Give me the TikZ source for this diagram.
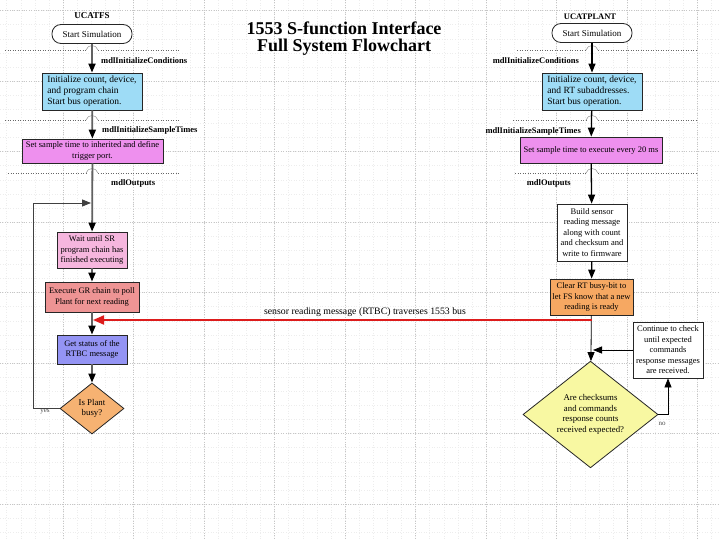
\documentclass[tikz,border=0pt]{standalone}
\usepackage{fontspec}
\setmainfont{Liberation Serif}
\usetikzlibrary{positioning,arrows.meta,shapes.geometric}
\definecolor{initBlue}{HTML}{9EDCF6}
\definecolor{sampleViolet}{HTML}{EE90EE}
\definecolor{waitPink}{HTML}{F6B6DE}
\definecolor{pollSalmon}{HTML}{EE9494}
\definecolor{statusBlue}{HTML}{9494F4}
\definecolor{busyOrange}{HTML}{F6B272}
\definecolor{clearOrange}{HTML}{F6A862}
\definecolor{checkYellow}{HTML}{F8F8A2}
\definecolor{busRed}{HTML}{DD1C1C}
\newcommand{\boxtext}{\fontsize{8.5}{10.5}\selectfont}
\newcommand{\inittext}{\fontsize{9.5}{11}\selectfont}
\newcommand{\hooktext}{\fontsize{8.5}{10}\selectfont\bfseries}
\newcommand{\titletext}{\fontsize{18}{17}\selectfont\bfseries}
% dotted stage separator with a small bridge over the flow line
\newcommand{\stagecut}[4]{%
  \draw[sepline] (#1,#4) -- ({#2-6},#4);
  \draw[sepline] ({#2+6},#4) -- (#3,#4);
  \draw[bridge] ({#2-6},#4) .. controls ({#2-4},{#4-6}) and ({#2+4},{#4-6}) .. ({#2+6},#4);}
\tikzset{
  gridline/.style={gray!45, line width=0.4pt, dotted},
  gridfine/.style={gray!14, line width=0.3pt, dash pattern=on 0.6pt off 2pt},
  sepline/.style={black!60, line width=0.5pt, dotted},
  bridge/.style={black!50, line width=0.4pt},
  termbox/.style={draw=black!85, line width=0.8pt, rounded corners=9pt, fill=white,
    minimum width=80pt, minimum height=19pt, inner sep=1pt, font=\fontsize{9}{10}\selectfont},
  flowbox/.style={draw=black!85, line width=0.8pt, align=center, inner sep=1pt, font=\boxtext},
  initbox/.style={flowbox, fill=initBlue, align=left, font=\inittext, minimum width=100pt, minimum height=37pt},
  decision/.style={draw=black!85, line width=0.8pt, diamond, align=center, inner sep=0pt, font=\fontsize{8.8}{10.5}\selectfont},
  hook/.style={font=\hooktext, inner sep=1pt},
  mainflow/.style={draw=black!62, line width=1.8pt, -{Triangle[width=7pt,length=9pt,color=black]}},
  plantflow/.style={draw=black, line width=1.3pt, -{Triangle[width=7pt,length=9pt]}},
  thinflow/.style={draw=black, line width=0.8pt, -{Triangle[width=7pt,length=9pt]}},
  busline/.style={draw=busRed, line width=2pt, -{Triangle[width=9pt,length=11pt]}}
}

\begin{document}
\begin{tikzpicture}[x=1pt, y=-1pt]
  \useasboundingbox[fill=white] (0,0) rectangle (720,540);
  % background grid
  \foreach \gx in {6.6,20.7,...,720} \draw[gridfine] (\gx,0) -- (\gx,540);
  \foreach \gy in {10.5,24.6,...,540} \draw[gridfine] (0,\gy) -- (720,\gy);
  \foreach \gx in {63,133.5,...,720} \draw[gridline] (\gx,0) -- (\gx,540);
  \foreach \gy in {10.5,81,...,540} \draw[gridline] (0,\gy) -- (720,\gy);

  \node[font=\titletext, align=center] (title) at (344,38.5) {1553 S-function Interface\\Full System Flowchart};

  % stage separators
  \stagecut{5}{92}{180}{50}
  \stagecut{5}{92}{180}{120}
  \stagecut{8}{92}{180}{173}
  \stagecut{517}{592}{697}{50}
  \stagecut{513}{592}{697}{120}
  \stagecut{515}{592}{697}{173}

  % UCATFS side
  \node[font=\fontsize{9}{10}\selectfont\bfseries] (tfs_title) at (92,16) {UCATFS};
  \node[termbox] (tfs_start) at (92,34) {Start Simulation};
  \node[initbox] (tfs_init) at (92,91.5) {Initialize count, device,\\and program chain\\Start bus operation.};
  \node[flowbox, fill=sampleViolet, minimum width=141pt, minimum height=24pt] (tfs_samp) at (92.5,151) {Set sample time to inherited and define\\trigger port.};
  \node[flowbox, fill=waitPink, minimum width=70pt, minimum height=36pt] (tfs_wait) at (92,250) {Wait until SR\\program chain has\\finished executing};
  \node[flowbox, fill=pollSalmon, minimum width=94pt, minimum height=30pt] (tfs_exec) at (92,297) {Execute GR chain to poll\\Plant for next reading};
  \node[flowbox, fill=statusBlue, minimum width=70pt, minimum height=29pt] (tfs_stat) at (92,349.5) {Get status of the\\RTBC message};
  \node[decision, fill=busyOrange, minimum width=64pt, minimum height=51pt] (tfs_busy) at (92,408.5) {Is Plant\\busy?};

  \node[hook, anchor=west] (tfs_ic) at (100,61) {mdlInitializeConditions};
  \node[hook, anchor=west] (tfs_st) at (101,130) {mdlInitializeSampleTimes};
  \node[hook, anchor=west] (tfs_out) at (110,183) {mdlOutputs};

  \coordinate (tfs_loop) at (33,203);
  \coordinate (tfs_join) at (91,203);
  \coordinate (tfs_tap) at (93,320);

  \draw[mainflow] (tfs_start) -- (tfs_init);
  \draw[mainflow] (tfs_init) -- (tfs_samp);
  \draw[mainflow] (tfs_samp) -- (tfs_wait);
  \draw[mainflow] (tfs_wait) -- (tfs_exec);
  \draw[mainflow] (tfs_exec) -- (tfs_stat);
  \draw[mainflow] (tfs_stat) -- (tfs_busy);
  \draw[thinflow, draw=black!75] (tfs_busy.west) -| (tfs_loop) -- (tfs_join);
  \node[font=\fontsize{7}{8}\selectfont, text=black!70] (tfs_yes) at (45,412) {yes};

  % UCATPLANT side
  \node[font=\fontsize{8.5}{10}\selectfont\bfseries] (pl_title) at (590,17) {UCATPLANT};
  \node[termbox] (pl_start) at (592,33) {Start Simulation};
  \node[initbox] (pl_init) at (592,91.5) {Initialize count, device,\\and RT subaddresses.\\Start bus operation.};
  \node[flowbox, fill=sampleViolet, minimum width=142pt, minimum height=26pt] (pl_samp) at (591,150) {Set sample time to execute every 20 ms};
  \node[flowbox, fill=white, minimum width=70pt, minimum height=57pt] (pl_build) at (592,232.5) {Build sensor\\reading message\\along with count\\and checksum and\\write to firmware};
  \node[flowbox, fill=clearOrange, minimum width=83pt, minimum height=36pt] (pl_clear) at (591.5,297) {Clear RT busy-bit to\\let FS know that a new\\reading is ready};
  \node[flowbox, fill=white, minimum width=70pt, minimum height=56pt] (pl_check) at (668,350) {Continue to check\\until expected\\commands\\response messages\\are received.};
  \node[decision, fill=checkYellow, minimum width=135pt, minimum height=91pt] (pl_diam) at (590.5,414.5) {Are checksums\\and commands\\response counts\\received expected?};

  \node[hook, anchor=east] (pl_ic) at (580,61) {mdlInitializeConditions};
  \node[hook, anchor=east] (pl_st) at (582,131) {mdlInitializeSampleTimes};
  \node[hook, anchor=east] (pl_out) at (572,183) {mdlOutputs};

  \coordinate (pl_tap) at (592,320);
  \coordinate (pl_join) at (593,350);

  \draw[plantflow] (pl_start) -- (pl_init);
  \draw[plantflow] (pl_init) -- (pl_samp);
  \draw[plantflow] (pl_samp) -- (pl_build);
  \draw[plantflow] (pl_build) -- (pl_clear);
  \draw[thinflow] (pl_clear) -- (pl_diam);
  \draw[thinflow] (pl_check.west) -- (pl_join);
  \draw[thinflow] (pl_diam.east) -| (pl_check.south);
  \node[font=\fontsize{7}{8}\selectfont, text=black!70] (pl_no) at (662,424) {no};

  % 1553 bus message
  \draw[busline] (pl_tap) -- (tfs_tap);
  \node[font=\fontsize{9.8}{11}\selectfont] (bus_lbl) at (365,312) {sensor reading message (RTBC) traverses 1553 bus};
\end{tikzpicture}
\end{document}
